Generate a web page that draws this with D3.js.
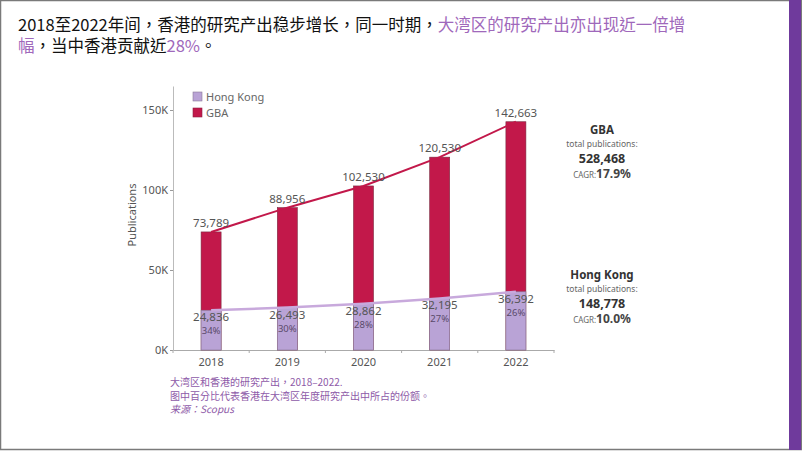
<!DOCTYPE html>
<html lang="zh-Hant"><head><meta charset="utf-8">
<script src="https://cdn.jsdelivr.net/npm/d3@7"></script>
<style>
html,body{margin:0;padding:0;background:#fff;}
svg{display:block;}
</style></head>
<body>
<svg id="c" width="802" height="451"></svg>
<script>
const years = ["2018","2019","2020","2021","2022"];
const gbaValues = [73789, 88956, 102530, 120530, 142663];
const hkValues = [24836, 26493, 28862, 32195, 36392];
const hkShares = ["34%","30%","28%","27%","26%"];
const yTicks = [0, 50000, 100000, 150000];
const yTickLabels = ["0K","50K","100K","150K"];
const seriesNames = ["Hong Kong","GBA"];
const summary = [
  {name:"GBA", total:"528,468", cagr:"17.9%"},
  {name:"Hong Kong", total:"148,778", cagr:"10.0%"}
];
const titleLine1a = "2018至2022年间，香港的研究产出稳步增长，同一时期，";
const titleLine1b = "大湾区的研究产出亦出现近一倍增";
const titleLine2a = "幅";
const titleLine2b = "，当中香港贡献近";
const titleLine2c = "28%";
const titleLine2d = "。";
const notes = ["大湾区和香港的研究产出，2018–2022.", "图中百分比代表香港在大湾区年度研究产出中所占的份额。", "来源：Scopus"];

const svg = d3.select("#c");
const gbaColor = "#c2184a", hkColor = "#b9a3d6", hkLine = "#c8a9dc", purple = "#9f68bb";
const cjk = "'Noto Sans CJK TC','Noto Sans CJK SC',sans-serif";
const lat = "'Noto Sans','Open Sans',sans-serif";

// frame
svg.append("rect").attr("x",0.5).attr("y",0.5).attr("width",801).attr("height",449).attr("fill","none").attr("stroke","#7a7a7a").attr("stroke-width",1.5);
svg.append("rect").attr("x",789).attr("y",0).attr("width",12).attr("height",450).attr("fill","#6f3a9c");

// title
const t1 = svg.append("text").attr("x",18).attr("y",31).attr("font-family",cjk).attr("font-size",16.5).attr("lang","zh-TW");
t1.append("tspan").attr("fill","#111").text(titleLine1a);
t1.append("tspan").attr("fill",purple).text(titleLine1b);
const t2 = svg.append("text").attr("x",18).attr("y",52).attr("font-family",cjk).attr("font-size",16.5).attr("lang","zh-TW");
t2.append("tspan").attr("fill",purple).text(titleLine2a);
t2.append("tspan").attr("fill","#111").text(titleLine2b);
t2.append("tspan").attr("fill",purple).text(titleLine2c);
t2.append("tspan").attr("fill","#111").text(titleLine2d);

// scales
const x = d3.scaleBand().domain(years).range([173,554]).paddingInner(0).paddingOuter(0);
const y = d3.scaleLinear().domain([0,165000]).range([350,86]);
const bw = 20;
const cx = d => x(d) + x.bandwidth()/2;

// axes
const ya = svg.append("g").attr("transform","translate(173,0)")
  .call(d3.axisLeft(y).tickValues(yTicks).tickFormat((d,i)=>yTickLabels[i]).tickSize(3).tickPadding(2).tickSizeOuter(0));
ya.select(".domain").attr("stroke","#bbb");
ya.selectAll(".tick line").attr("stroke","#999");
ya.selectAll("text").attr("font-family",lat).attr("font-size",11).attr("fill","#555");

const xa = svg.append("g").attr("transform","translate(0,350)")
  .call(d3.axisBottom(x).tickSize(0).tickPadding(8));
xa.select(".domain").attr("stroke","#aaa");
xa.selectAll("text").attr("font-family",lat).attr("font-size",11).attr("fill","#555");
// boundary ticks
svg.append("g").selectAll("line").data(years.concat(["end"])).join("line")
  .attr("x1",(d,i)=> i<years.length ? x(d) : x(years[years.length-1])+x.bandwidth())
  .attr("x2",(d,i)=> i<years.length ? x(d) : x(years[years.length-1])+x.bandwidth())
  .attr("y1",350).attr("y2",353).attr("stroke","#aaa");

svg.append("text").attr("transform","translate(136,215) rotate(-90)").attr("text-anchor","middle")
  .attr("font-family",lat).attr("font-size",11).attr("fill","#555").text("Publications");

// bars GBA
svg.append("g").selectAll("rect").data(years).join("rect")
  .attr("x",d=>cx(d)-bw/2).attr("width",bw)
  .attr("y",(d,i)=>y(gbaValues[i])).attr("height",(d,i)=>y(0)-y(gbaValues[i]))
  .attr("fill",gbaColor).attr("stroke","#7a2a40").attr("stroke-width",0.6);
// bars HK
svg.append("g").selectAll("rect").data(years).join("rect")
  .attr("x",d=>cx(d)-bw/2).attr("width",bw)
  .attr("y",(d,i)=>y(hkValues[i])).attr("height",(d,i)=>y(0)-y(hkValues[i]))
  .attr("fill",hkColor).attr("stroke","#8a7a98").attr("stroke-width",0.6);

// lines
const line = d3.line().x(d=>cx(d[0])).y(d=>y(d[1]));
svg.append("path").datum(years.map((d,i)=>[d,gbaValues[i]])).attr("d",line)
  .attr("fill","none").attr("stroke",gbaColor).attr("stroke-width",2);
svg.append("path").datum(years.map((d,i)=>[d,hkValues[i]])).attr("d",line)
  .attr("fill","none").attr("stroke",hkLine).attr("stroke-width",2.5);

// labels
const fmt = d3.format(",");
svg.append("g").selectAll("text").data(years).join("text")
  .attr("x",cx).attr("y",(d,i)=>y(gbaValues[i])-5).attr("text-anchor","middle")
  .attr("font-family",lat).attr("font-size",11.5).attr("fill","#555").text((d,i)=>fmt(gbaValues[i]));
svg.append("g").selectAll("text").data(years).join("text")
  .attr("x",cx).attr("y",(d,i)=>y(hkValues[i])+11).attr("text-anchor","middle")
  .attr("font-family",lat).attr("font-size",11.5).attr("fill","#555").text((d,i)=>fmt(hkValues[i]));
svg.append("g").selectAll("text").data(years).join("text")
  .attr("x",cx).attr("y",(d,i)=>y(hkValues[i])+24).attr("text-anchor","middle")
  .attr("font-family",lat).attr("font-size",9.5).attr("fill","#5a4a6a").text((d,i)=>hkShares[i]);

// legend
const lg = svg.append("g");
[hkColor, gbaColor].forEach((c,i)=>{
  lg.append("rect").attr("x",193).attr("y",92+i*16).attr("width",9).attr("height",9)
    .attr("fill",c).attr("stroke",i===0?"#8a7a98":"#8a2040").attr("stroke-width",0.6);
  lg.append("text").attr("x",206).attr("y",101+i*16).attr("font-family",lat).attr("font-size",11).attr("fill","#666").text(seriesNames[i]);
});

// summary
summary.forEach((s,i)=>{
  const by = 134 + i*145;
  const g = svg.append("g").attr("font-family",lat).attr("text-anchor","middle").attr("fill","#333");
  g.append("text").attr("x",602).attr("y",by).attr("font-size",11.5).attr("font-weight","bold").attr("fill","#333").text(s.name);
  g.append("text").attr("x",602).attr("y",by+13).attr("font-size",8.5).attr("fill","#666").text("total publications:");
  g.append("text").attr("x",602).attr("y",by+29).attr("font-size",12.5).attr("font-weight","bold").attr("fill","#333").text(s.total);
  const c = g.append("text").attr("x",602).attr("y",by+44);
  c.append("tspan").attr("font-size",8).attr("fill","#666").text("CAGR:");
  c.append("tspan").attr("font-size",12).attr("font-weight","bold").attr("fill","#444").text(s.cagr);
});

// notes
notes.forEach((n,i)=>{
  const t = svg.append("text").attr("x",170).attr("y",386+i*13.5).attr("font-family",cjk).attr("font-size",10).attr("fill","#8e5aa8").attr("lang","zh-TW");
  if(i===2){ t.attr("font-style","italic"); }
  t.text(n);
});
</script>
</body></html>
